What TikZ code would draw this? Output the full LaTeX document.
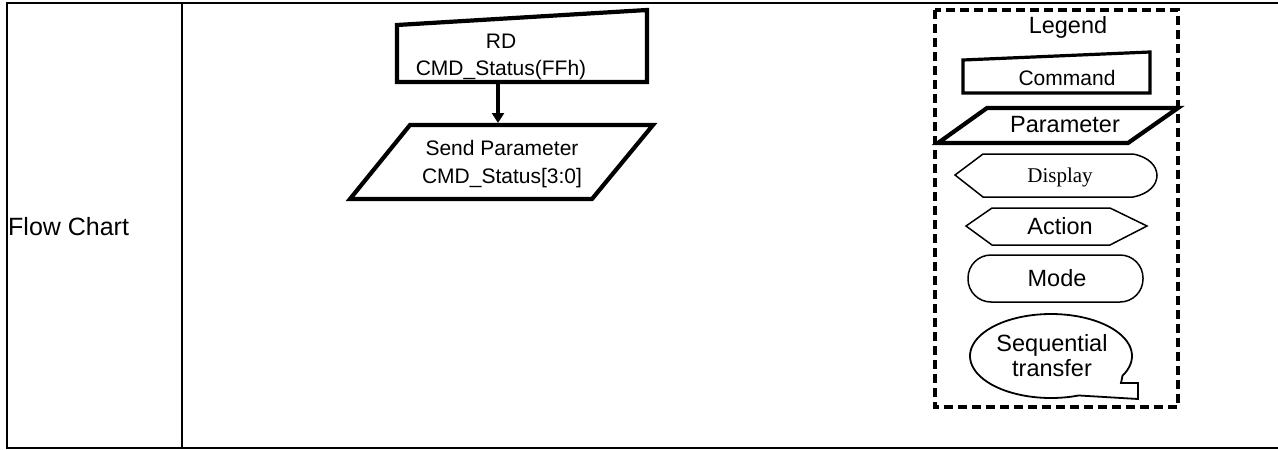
\documentclass[tikz,border=0pt]{standalone}
\usepackage{fontspec}
\setmainfont{Liberation Sans}
\newfontfamily\timesf{Liberation Serif}
\usetikzlibrary{arrows.meta}
\tikzset{
  tbl/.style={line width=2.6pt},
  thickshape/.style={line width=4.2pt, line join=miter},
  thinshape/.style={line width=1.5pt},
  legbox/.style={line width=3.2pt, dash pattern=on 9pt off 5pt},
  txt/.style={inner sep=0pt, align=center, font=\fontsize{21}{27}\selectfont},
  bigtxt/.style={inner sep=0pt, align=center, font=\fontsize{23.5}{25}\selectfont},
  conn/.style={line width=3.6pt, -{Triangle[length=10pt,width=12pt]}}
}
\begin{document}
\begin{tikzpicture}[x=1pt,y=-1pt]
\useasboundingbox (0,0) rectangle (1278,450);
% table
\draw[tbl] (1278,3) -- (7,3) -- (7,448) -- (1278,448);
\draw[tbl] (182,3) -- (182,448);
\node[anchor=west, inner sep=0pt, font=\fontsize{25}{30}\selectfont] (fc) at (8,227) {Flow Chart};
% flow chart
\draw[thickshape] (397,25) -- (647,10) -- (647,82) -- (397,82) -- cycle;
\node[txt] (rd) at (501,56.5) {RD\\CMD\_Status(FFh)};
\draw[thickshape] (410,125) -- (653,125) -- (592,199) -- (350,199) -- cycle;
\node[txt, font=\fontsize{21}{28}\selectfont] (sp) at (502,164) {Send Parameter\\CMD\_Status[3:0]};
\coordinate (rdbot) at (498,82);
\coordinate (sptop) at (498,123);
\draw[conn] (rdbot) -- (sptop);
% legend
\draw[legbox] (935,10) rectangle (1178,407);
\node[bigtxt] (leg) at (1068,27) {Legend};
\draw[line width=3.2pt] (963,60) -- (1150,52) -- (1150,93) -- (963,93) -- cycle;
\node[txt] (cmd) at (1067,78) {Command};
\draw[thickshape] (987,108) -- (1178,108) -- (1128,143) -- (938,143) -- cycle;
\node[bigtxt] (par) at (1065,125) {Parameter};
\draw[thinshape] (955,175) -- (983,154) -- (1133,154) .. controls (1165,160) and (1165,191) .. (1133,197) -- (983,197) -- cycle;
\node[inner sep=0pt, font=\timesf\fontsize{21}{25}\selectfont] (disp) at (1060,177) {Display};
\draw[thinshape] (966,226) -- (992,208) -- (1110,208) -- (1147,226) -- (1110,245) -- (992,245) -- cycle;
\node[bigtxt] (act) at (1060,226) {Action};
\draw[thinshape, rounded corners=23pt] (968,255) rectangle (1143,302);
\node[bigtxt] (mode) at (1057,278) {Mode};
\draw[line width=1.8pt] (1138,383) -- (1138,399) -- plot[domain=70:388, samples=80, smooth] ({1051+81*cos(\x)}, {356+42*sin(\x)}) -- (1121,383) -- cycle;
\node[bigtxt] (seq) at (1052,355.5) {Sequential\\transfer};
\end{tikzpicture}
\end{document}
